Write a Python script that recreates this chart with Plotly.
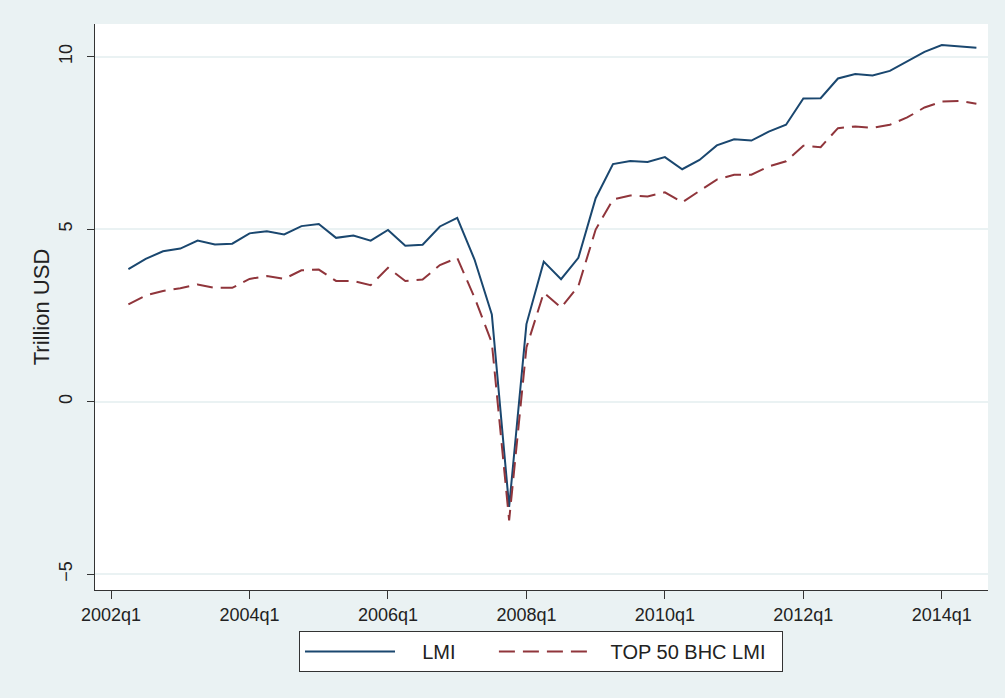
"""Stata-style line chart: LMI vs top 50 BHC LMI, quarterly 2002q2-2014q3."""
import plotly.graph_objects as go

# quarterly labels, 2002q2 .. 2014q3
quarters = [f"{y}q{q}" for y in range(2002, 2015) for q in range(1, 5)][1:51]

lmi = [
    3.84, 4.14, 4.36, 4.44, 4.67, 4.56, 4.58, 4.88, 4.94, 4.85,
    5.09, 5.15, 4.75, 4.82, 4.67, 4.98, 4.52, 4.55, 5.08, 5.33,
    4.12, 2.53, -3.05, 2.25, 4.06, 3.55, 4.17, 5.90, 6.89, 6.98,
    6.95, 7.09, 6.74, 7.01, 7.43, 7.61, 7.57, 7.83, 8.03, 8.79,
    8.80, 9.37, 9.50, 9.46, 9.59, 9.86, 10.14, 10.34, 10.30, 10.26,
]
top50 = [
    2.82, 3.08, 3.21, 3.29, 3.40, 3.30, 3.30, 3.56, 3.64, 3.56,
    3.81, 3.83, 3.50, 3.50, 3.38, 3.88, 3.50, 3.54, 3.96, 4.17,
    3.02, 1.71, -3.44, 1.57, 3.16, 2.73, 3.35, 4.99, 5.86, 5.98,
    5.95, 6.07, 5.78, 6.12, 6.44, 6.58, 6.58, 6.82, 6.97, 7.42,
    7.38, 7.93, 7.98, 7.94, 8.03, 8.24, 8.53, 8.70, 8.72, 8.64,
]

tick_labels = ["2002q1", "2004q1", "2006q1", "2008q1", "2010q1", "2012q1", "2014q1"]
y_ticks = [-5, 0, 5, 10]


def qnum(label):
    """Stata-like quarterly number from 'YYYYqN'."""
    year, q = label.split("q")
    return int(year) * 4 + int(q) - 1


x = [qnum(q) for q in quarters]
x_ticks = [qnum(t) for t in tick_labels]

NAVY = "#1a476f"
MAROON = "#90353b"
BG = "#EAF2F3"
FONT = "Liberation Sans, Arial, sans-serif"
NB = "\u00a0"  # non-breaking space, used to pad legend entries like Stata's

fig = go.Figure()
fig.add_trace(go.Scatter(
    x=x, y=lmi, name=NB * 4 + "LMI" + NB * 6, mode="lines",
    line=dict(color=NAVY, width=2),
))
fig.add_trace(go.Scatter(
    x=x, y=top50, name=NB * 3 + "TOP 50 BHC LMI" + NB * 2, mode="lines",
    line=dict(color=MAROON, width=2, dash="16px,8px"),
))

W, H = 1005, 698

fig.update_layout(
    width=W, height=H,
    margin=dict(l=95, r=17, t=24, b=108, autoexpand=False),
    paper_bgcolor=BG,
    plot_bgcolor="white",
    font=dict(family=FONT, size=18, color="#222222"),
    showlegend=True,
    legend=dict(
        orientation="h",
        xref="container", x=541 / W, xanchor="center",
        yref="container", y=1 - 631 / H, yanchor="top",
        bgcolor="white",
        bordercolor="#333333", borderwidth=1,
        font=dict(size=20),
        itemwidth=90,
    ),
    xaxis=dict(
        range=[x_ticks[0] - 0.93, x_ticks[0] + 50.67],
        tickvals=x_ticks, ticktext=tick_labels,
        showgrid=False, zeroline=False, automargin=False,
        showline=True, linecolor="#333333", linewidth=1,
        ticks="outside", ticklen=8, tickcolor="#333333",
    ),
    yaxis=dict(
        range=[-5.46, 10.95],
        tickvals=y_ticks,
        tickangle=-90,
        ticklabelstandoff=8,
        showgrid=True, gridcolor=BG, gridwidth=2,
        zeroline=False, automargin=False,
        showline=True, linecolor="#333333", linewidth=1,
        ticks="outside", ticklen=7, tickcolor="#333333",
        title=dict(text="Trillion USD", standoff=0),
    ),
)

# drop the browser's default 8px body margin so the figure sits at (0, 0)
fig.write_html(
    "out.html",
    config={"displayModeBar": False},
    post_script="document.body.style.margin = '0';",
)
